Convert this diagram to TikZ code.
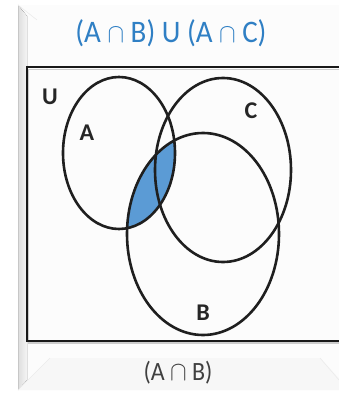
\documentclass[tikz,border=0pt]{standalone}
\usepackage{fontspec}
\setmainfont{Carlito}
\begin{document}
\begin{tikzpicture}[x=1pt,y=-1pt,
  setline/.style={line width=2.6pt,draw=black!88},
  lbl/.style={font=\fontsize{24}{30}\selectfont\bfseries, text=black!85, inner sep=0pt},
  ttl/.style={font=\fontsize{29}{34}\selectfont, text=titleblue, inner sep=0pt},
  captxt/.style={font=\fontsize{24}{30}\selectfont, text=black!75, inner sep=0pt}]
\definecolor{titleblue}{HTML}{2F7FC4}
\definecolor{lensblue}{HTML}{5B9BD5}
\useasboundingbox (0,0) rectangle (339,393);
% background and bevelled panel
\fill[white] (0,0) rectangle (339,393);
\fill[black!1] (18,5) rectangle (345,390);
\fill[left color=black!13, right color=black!4] (18,5) -- (27,16) -- (27,380) -- (18,390) -- cycle;
\fill[black!3] (18,390) -- (50,358) -- (320,358) -- (345,385) -- (345,390) -- cycle;
\draw[black!22, line width=0.8pt] (18,5) -- (18,390);
\draw[black!8, line width=0.6pt] (18,5) -- (37,20);
\draw[black!8, line width=0.6pt] (18,390) -- (50,358);
\draw[black!8, line width=0.6pt] (320,358) -- (339,380);
% title
\node[ttl] (title) at (171,33) {\scalebox{1}[1.08]{(A $\cap$ B) U (A $\cap$ C)}};
% universe rectangle
\draw[black!20, line width=1.5pt] (28.5,69.5) rectangle (346,343);
\draw[black!90, line width=2.8pt] (27,67) rectangle (345,341);
% shaded A cap B
\begin{scope}
  \clip (119,153) ellipse [x radius=56pt, y radius=76pt];
  \fill[lensblue] (203,234) ellipse [x radius=76pt, y radius=101pt];
\end{scope}
% sets
\draw[setline] (119,153) ellipse [x radius=56pt, y radius=76pt];
\draw[setline] (223,170) ellipse [x radius=68pt, y radius=92pt];
\draw[setline] (203,234) ellipse [x radius=76pt, y radius=101pt];
% labels
\node[lbl] (U) at (50,97) {U};
\node[lbl] (A) at (87,133) {A};
\node[lbl] (C) at (251,111) {C};
\node[lbl] (B) at (203,313) {B};
\node[captxt] (caption) at (178,373) {\scalebox{1}[1.1]{(A $\cap$ B)}};
\end{tikzpicture}
\end{document}
